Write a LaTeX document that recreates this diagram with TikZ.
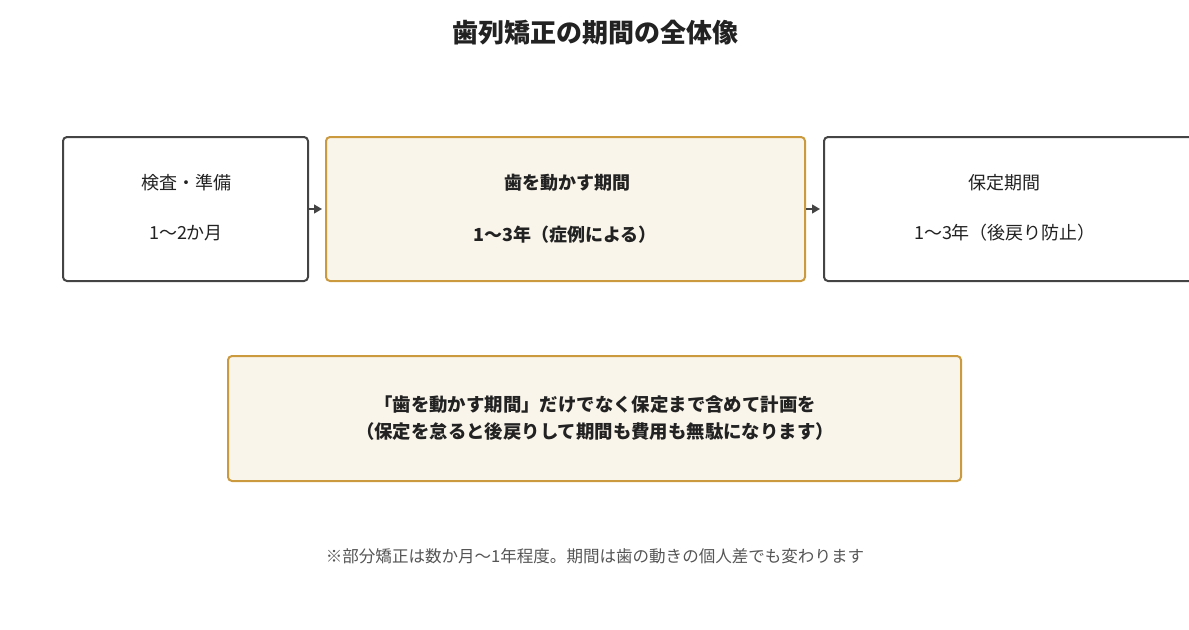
\documentclass[tikz,border=0pt]{standalone}
\usepackage{fontspec}
\setmainfont{Noto Sans CJK JP}
\usetikzlibrary{arrows.meta}
\definecolor{darkline}{HTML}{444444}
\definecolor{goldline}{HTML}{CC9A3E}
\definecolor{creamfill}{HTML}{FAF5EB}
\definecolor{txt}{HTML}{222222}
\definecolor{notetxt}{HTML}{555555}
\tikzset{
  plainbox/.style={draw=darkline, line width=1.5pt, fill=white, rounded corners=3pt, inner sep=0pt},
  goldbox/.style={draw=goldline, line width=1.5pt, fill=creamfill, rounded corners=3pt, inner sep=0pt},
  boxtext/.style={font=\fontsize{13.5pt}{16pt}\selectfont, text=txt, inner sep=0pt},
  boldtext/.style={font=\fontsize{13.5pt}{16pt}\selectfont\bfseries, text=txt, inner sep=0pt},
  notetext/.style={font=\fontsize{13.8pt}{16pt}\selectfont\bfseries, text=txt, inner sep=0pt},
  flow/.style={draw=darkline, line width=2pt, -{Triangle[length=6pt,width=6.5pt]}, shorten >=2.2pt}
}
\begin{document}
\begin{tikzpicture}[x=0.75pt,y=-0.75pt]
\useasboundingbox (0,0) rectangle (1189,629);
\clip (0,0) rectangle (1189,629);
\node[font=\fontsize{19.5pt}{23pt}\selectfont\bfseries, text=txt, inner sep=0pt] (title) at (595,33) {歯列矯正の期間の全体像};
% boxes
\node[plainbox, minimum width=245*0.75pt, minimum height=144*0.75pt] (boxA) at (185.5,209) {};
\node[goldbox, minimum width=479*0.75pt, minimum height=144*0.75pt] (boxB) at (565.5,209) {};
\node[plainbox, minimum width=400*0.75pt, minimum height=144*0.75pt, anchor=west] (boxC) at (823,209) {};
% texts
\node[boxtext] (a1) at (186,183) {検査・準備};
\node[boxtext] (a2) at (186,233) {1〜2か月};
\node[boldtext] (b1) at (567,183) {歯を動かす期間};
\node[boldtext] (b2) at (565,235) {1〜3年（症例による）};
\node[boxtext] (c1) at (1004,183) {保定期間};
\node[boxtext] (c2) at (1005,233) {1〜3年（後戻り防止）};
% arrows
\draw[flow] (boxA.east) -- (boxB.west);
\draw[flow] (boxB.east) -- (boxC.west);
% note
\node[goldbox, minimum width=733*0.75pt, minimum height=125*0.75pt] (note) at (594.5,418.5) {};
\node[notetext] (n1) at (595,405) {「歯を動かす期間」だけでなく保定まで含めて計画を};
\node[notetext] (n2) at (595,432) {（保定を怠ると後戻りして期間も費用も無駄になります）};
% footnote
\node[font=\fontsize{12.4pt}{15pt}\selectfont, text=notetxt, inner sep=0pt] (foot) at (595,556) {※部分矯正は数か月〜1年程度。期間は歯の動きの個人差でも変わります};
\end{tikzpicture}
\end{document}
